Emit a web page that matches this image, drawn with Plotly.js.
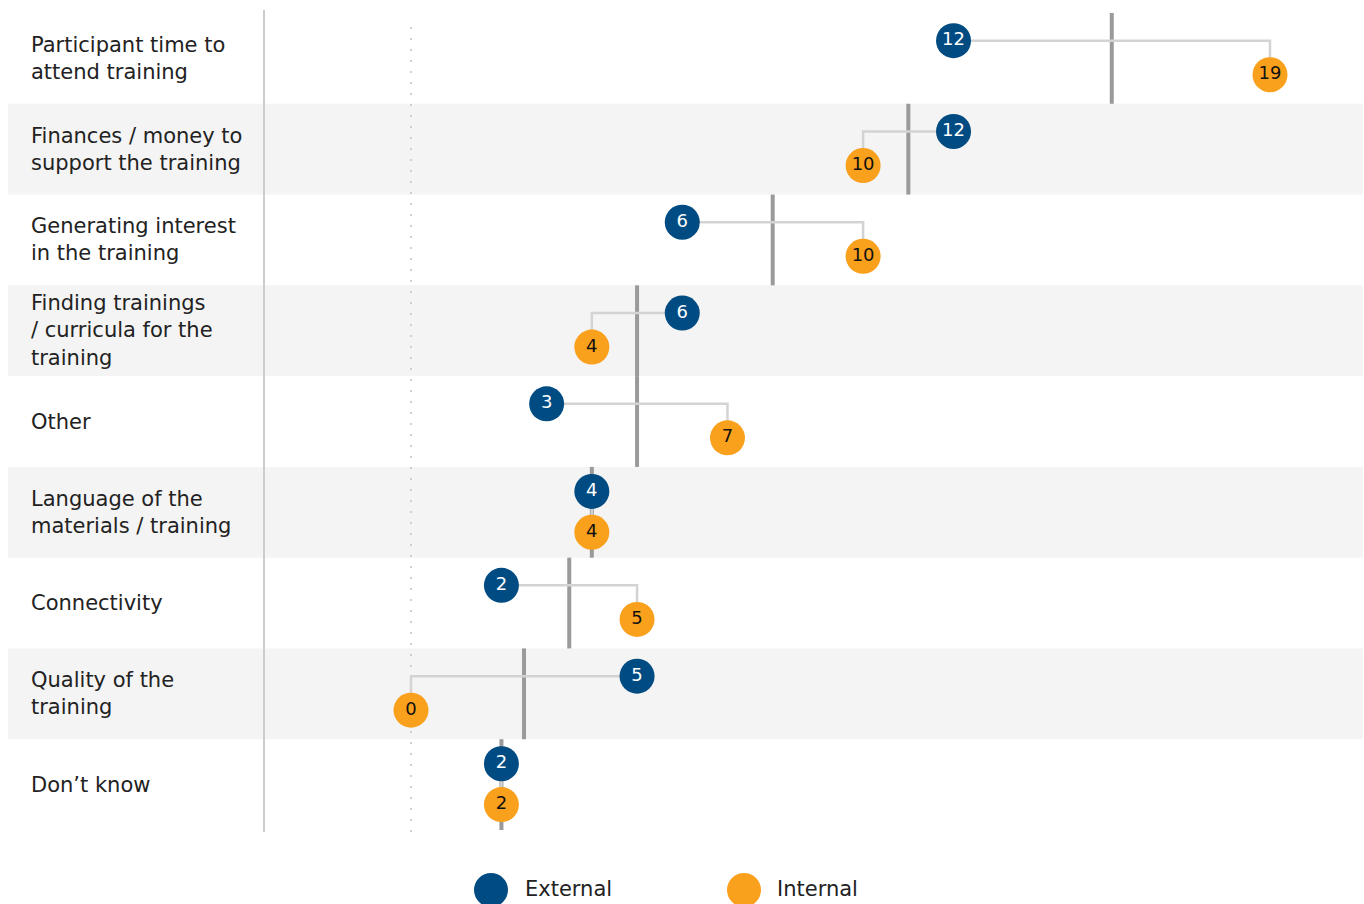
<!DOCTYPE html>
<html lang="en">
  <head>
    <meta charset="UTF-8" />
    <title>Training barriers</title>
    <script src="https://cdn.plot.ly/plotly-3.0.1.min.js"></script>
    <style>
      body { margin: 0; background: #fff; }
      #myDiv { width: 1364px; height: 904px; }
    </style>
  </head>
  <body>
    <div id="myDiv"></div>
    <script>
      var categories = [
        "Participant time to<br>attend training",
        "Finances / money to<br>support the training",
        "Generating interest<br>in the training",
        "Finding trainings<br>/ curricula for the<br>training",
        "Other",
        "Language of the<br>materials / training",
        "Connectivity",
        "Quality of the<br>training",
        "Don’t know",
      ];
      var external = [12, 12, 6, 6, 3, 4, 2, 5, 2];
      var internal = [19, 10, 10, 4, 7, 4, 5, 0, 2];

      var BLUE = "#004b82";
      var ORANGE = "#f9a01c";
      var FONT = "DejaVu Sans";

      // row i spans y = i .. i+1 (axis reversed), dots sit at fixed offsets
      var yExt = external.map((v, i) => i + (v === internal[i] ? 0.27 : 0.305));
      var yInt = internal.map((v, i) => i + (v === external[i] ? 0.72 : 0.68));
      var means = external.map((v, i) => (v + internal[i]) / 2);

      // elbow connector: across at the external row, then down to internal
      var cx = [], cy = [];
      external.forEach((v, i) => {
        cx.push(v, internal[i], internal[i], null);
        cy.push(yExt[i], yExt[i], yInt[i], null);
      });

      var data = [
        {
          x: cx, y: cy, mode: "lines", hoverinfo: "skip",
          line: { color: "#d3d3d3", width: 2.5 },
        },
        {
          x: external, y: yExt, mode: "markers+text", name: "External",
          text: external.map(String), textposition: "middle center",
          textfont: { family: FONT, size: 18, color: "#fff" },
          marker: { size: 35, color: BLUE },
          cliponaxis: false,
        },
        {
          x: internal, y: yInt, mode: "markers+text", name: "Internal",
          text: internal.map(String), textposition: "middle center",
          textfont: { family: FONT, size: 18, color: "#111" },
          marker: { size: 35, color: ORANGE },
          cliponaxis: false,
        },
      ];

      var shapes = [];
      // alternate row shading
      categories.forEach((c, i) => {
        if (i % 2 === 1)
          shapes.push({
            type: "rect", layer: "below", xref: "paper", yref: "y",
            x0: -0.233, x1: 1, y0: i, y1: i + 1,
            fillcolor: "#f4f4f4", line: { width: 0 },
          });
      });
      // average bar per row
      means.forEach((m, i) => {
        shapes.push({
          type: "line", layer: "below", xref: "x", yref: "y",
          x0: m, x1: m, y0: i, y1: i + 1,
          line: { color: "#9a9a9a", width: 4 },
        });
      });
      // zero line and left separator
      shapes.push({
        type: "line", layer: "below", xref: "x", yref: "paper",
        x0: 0, x1: 0, y0: -0.0024, y1: 0.9914,
        line: { color: "#cfcfcf", width: 2, dash: "2px,9px" },
      });
      shapes.push({
        type: "line", layer: "below", xref: "paper", yref: "paper",
        x0: 0, x1: 0, y0: -0.0024, y1: 1.0037,
        line: { color: "#cccccc", width: 2 },
      });
      // legend circles
      [[491, BLUE], [744, ORANGE]].forEach(([px, col]) => {
        shapes.push({
          type: "circle", xref: "paper", yref: "paper",
          xsizemode: "pixel", ysizemode: "pixel",
          xanchor: (px - 264) / 1099, yanchor: (830 - 890) / 817,
          x0: -17, x1: 17, y0: -17, y1: 17,
          fillcolor: col, line: { width: 0 },
        });
      });

      var annotations = categories.map((c, i) => ({
        text: c, xref: "paper", yref: "y", x: (29 - 264) / 1099, y: i + 0.5,
        xanchor: "left", yanchor: "middle", align: "left", showarrow: false,
        font: { family: FONT, size: 21, color: "#222" },
      }));
      [[523, "External"], [775, "Internal"]].forEach(([px, t]) => {
        annotations.push({
          text: t, xref: "paper", yref: "paper",
          x: (px - 264) / 1099, y: (830 - 889) / 817,
          xanchor: "left", yanchor: "middle", showarrow: false,
          font: { family: FONT, size: 21, color: "#222" },
        });
      });

      var layout = {
        width: 1364, height: 904,
        margin: { l: 264, r: 1, t: 13, b: 74 },
        paper_bgcolor: "#fff", plot_bgcolor: "rgba(0,0,0,0)",
        showlegend: false,
        xaxis: { range: [-3.2515, 21.057], visible: false, fixedrange: true },
        yaxis: { range: [9, 0], visible: false, fixedrange: true },
        shapes: shapes,
        annotations: annotations,
      };

      Plotly.newPlot("myDiv", data, layout, { displayModeBar: false, staticPlot: true });
    </script>
  </body>
</html>
